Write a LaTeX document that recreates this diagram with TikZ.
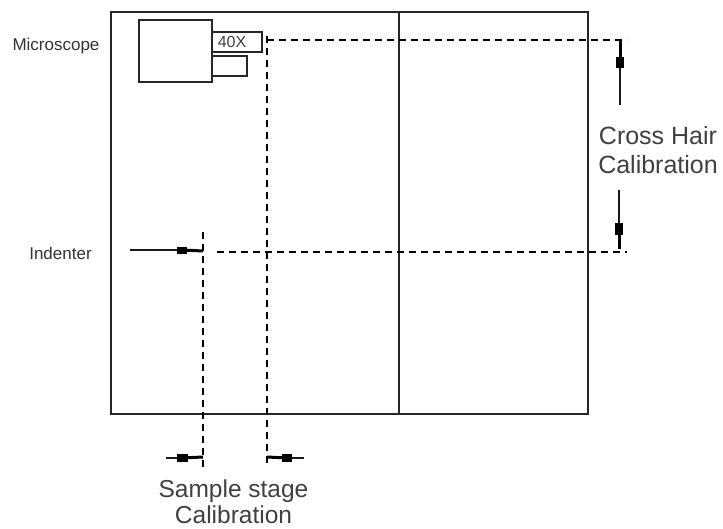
\documentclass[tikz,border=0pt]{standalone}
\usepackage{fontspec}
\setmainfont{Liberation Sans}
\tikzset{
  frameline/.style={draw=black!85,line width=1.3pt},
  boxshape/.style={draw=black!85,line width=1.2pt,fill=white,inner sep=0pt,minimum width=#1},
  guide/.style={draw=black,line width=1.1pt,dash pattern=on 7pt off 5pt},
  leader/.style={draw=black!90,line width=1.1pt},
  thickpart/.style={draw=black,line width=3pt},
  blocktip/.style={draw=black,fill=black,inner sep=0pt},
  biglabel/.style={font=\fontsize{25}{29}\selectfont,align=center,text=black!75,inner sep=0pt},
  samplelabel/.style={font=\fontsize{24.5}{26.5}\selectfont,align=center,text=black!75,inner sep=0pt},
  smalllabel/.style={font=\fontsize{17}{20}\selectfont,text=black!80,inner sep=0pt},
}
\begin{document}
\begin{tikzpicture}[x=1pt,y=-1pt]
\useasboundingbox (0,0) rectangle (723,529);
\node[frameline,minimum width=288pt,minimum height=402pt,inner sep=0pt] (leftpane) at (255,213) {};
\node[frameline,minimum width=189pt,minimum height=402pt,inner sep=0pt] (rightpane) at (493.5,213) {};
\node[boxshape=73pt,minimum height=62pt] (scope) at (175.5,51) {};
\node[boxshape=50pt,minimum height=20pt] (lensa) at (237,42) {};
\node[boxshape=35pt,minimum height=20pt] (lensb) at (229.5,66) {};
\node[font=\fontsize{16}{18}\selectfont,text=black!75,inner sep=0pt] (mag) at (232,42) {40X};
\node[smalllabel,anchor=center] (micl) at (56,46) {Microscope};
\node[smalllabel,anchor=center] (indl) at (60.5,253) {Indenter};
\node[biglabel] (crossl) at (658,150) {Cross Hair\\Calibration};
\node[samplelabel] (samplel) at (233.5,501.5) {Sample stage\\Calibration};
% dashed guides
\coordinate (g1t) at (267,36);
\coordinate (g1b) at (267,466);
\coordinate (g2t) at (203,232);
\coordinate (g2b) at (203,470);
\coordinate (h1l) at (267,40);
\coordinate (h1r) at (627,40);
\coordinate (h2l) at (217,252);
\coordinate (h2r) at (627,252);
\draw[guide] (g1t) -- (g1b);
\draw[guide] (g2t) -- (g2b);
\draw[guide] (h1l) -- (h1r);
\draw[guide] (h2l) -- (h2r);
% cross hair top
\coordinate (ct0) at (620,40);
\coordinate (ct1) at (620,62);
\coordinate (ct2) at (620,105);
\draw[leader] (ct1) -- (ct2);
\draw[thickpart] (ct0) -- (ct1);
\node[blocktip,minimum width=7pt,minimum height=10pt] (ctb) at (ct1) {};
% cross hair bottom
\coordinate (cb0) at (619,249);
\coordinate (cb1) at (619,229);
\coordinate (cb2) at (619,190);
\draw[leader] (cb1) -- (cb2);
\draw[thickpart] (cb0) -- (cb1);
\node[blocktip,minimum width=7pt,minimum height=11pt] (cbb) at (cb1) {};
% indenter
\coordinate (i0) at (130,250);
\coordinate (i1) at (182,250);
\coordinate (i2) at (203,251);
\draw[leader] (i0) -- (i1);
\draw[thickpart] (i1) -- (i2);
\node[blocktip,minimum width=9pt,minimum height=6pt] (ib) at (182,250.5) {};
% sample stage left
\coordinate (sl0) at (166,458);
\coordinate (sl1) at (182,458);
\coordinate (sl2) at (203,457);
\draw[leader] (sl0) -- (sl1);
\draw[thickpart] (sl1) -- (sl2);
\node[blocktip,minimum width=10pt,minimum height=7pt] (slb) at (sl1) {};
% sample stage right
\coordinate (sr0) at (304,458);
\coordinate (sr1) at (287,458);
\coordinate (sr2) at (267,457);
\draw[leader] (sr0) -- (sr1);
\draw[thickpart] (sr1) -- (sr2);
\node[blocktip,minimum width=9pt,minimum height=7pt] (srb) at (sr1) {};
\end{tikzpicture}
\end{document}
